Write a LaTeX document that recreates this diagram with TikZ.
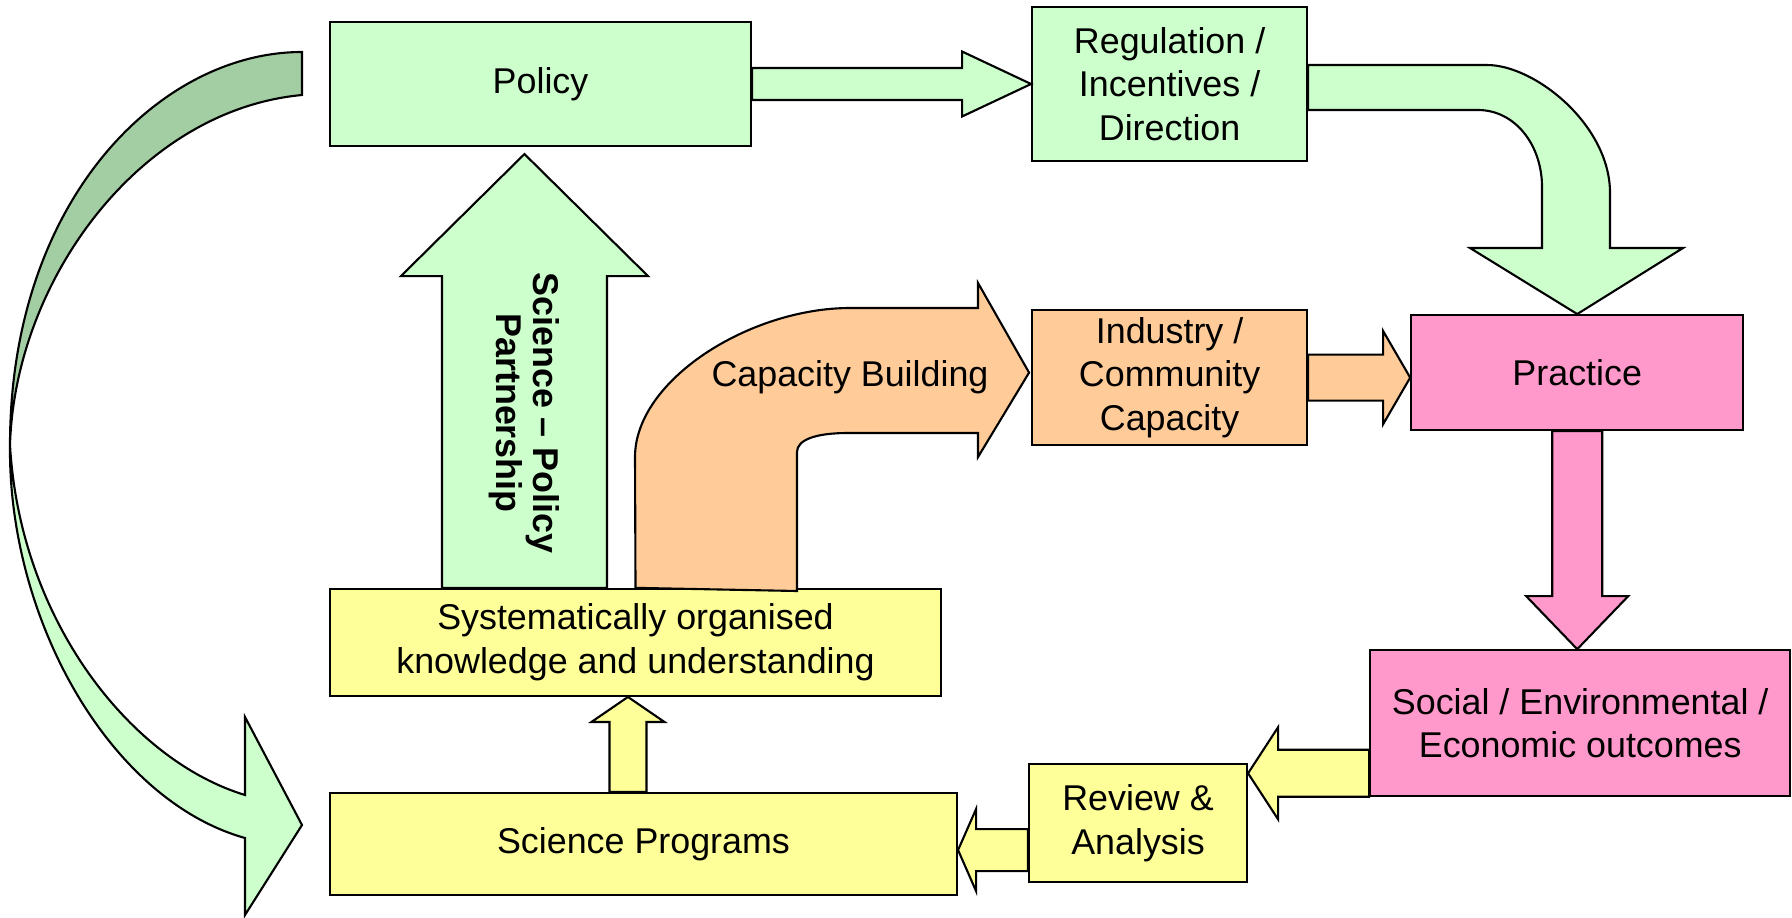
\documentclass[tikz,border=0pt]{standalone}
\usepackage{fontspec}
\setmainfont{Liberation Sans}
\usepackage{tikz}
\usetikzlibrary{positioning,calc}
\definecolor{lightgreen}{HTML}{CCFFCC}
\definecolor{backgreen}{HTML}{A3CDA3}
\definecolor{lightyellow}{HTML}{FFFF99}
\definecolor{lightorange}{HTML}{FFCC99}
\definecolor{lightpink}{HTML}{FF99CC}
\tikzstyle{box}=[rectangle,draw,line width=0.6pt,inner sep=0pt,align=center,font=\fontsize{10.2}{12.4}\selectfont]
\tikzstyle{greenbox}=[box,fill=lightgreen]
\tikzstyle{yellowbox}=[box,fill=lightyellow]
\tikzstyle{orangebox}=[box,fill=lightorange]
\tikzstyle{pinkbox}=[box,fill=lightpink]
\tikzstyle{blockarrow}=[draw,line width=0.6pt,line join=miter]
\tikzstyle{greenarrow}=[blockarrow,fill=lightgreen]
\tikzstyle{backarrow}=[blockarrow,fill=backgreen]
\tikzstyle{yellowarrow}=[blockarrow,fill=lightyellow]
\tikzstyle{orangearrow}=[blockarrow,fill=lightorange]
\tikzstyle{pinkarrow}=[blockarrow,fill=lightpink]
\tikzstyle{arrowlabel}=[font=\fontsize{10.2}{12.4}\selectfont,align=center]
\newcommand{\blockarrow}[6][]{%
  \coordinate (ba-c) at ($#3!#6!#2$);
  \draw[#1] ($#2!#4!90:#3$) -- ($(ba-c)!#4!-90:#2$) -- ($(ba-c)!#5!-90:#2$) -- #3
    -- ($(ba-c)!#5!90:#2$) -- ($(ba-c)!#4!90:#2$) -- ($#2!#4!-90:#3$) -- cycle;}
\begin{document}
\begin{tikzpicture}[x=0.1mm,y=-0.1mm]
\useasboundingbox (0,0) rectangle (1792,917);

\node (policy) [greenbox,minimum width=42.1mm,minimum height=12.4mm] at (540.5,84) {Policy};
\node (reg) [greenbox,minimum width=27.5mm,minimum height=15.4mm,right=27.9mm of policy] {Regulation /\\Incentives /\\Direction};
\node (industry) [orangebox,minimum width=27.5mm,minimum height=13.5mm,below=14.7mm of reg] {Industry /\\Community\\Capacity};
\node (practice) [pinkbox,minimum width=33.2mm,minimum height=11.5mm,right=10.2mm of industry,yshift=0.5mm] {Practice};
\node (social) [pinkbox,minimum width=42mm,minimum height=14.6mm,below=21.8mm of practice,xshift=0.3mm] {Social / Environmental /\\Economic outcomes};
\node (review) [yellowbox,minimum width=21.8mm,minimum height=11.8mm] at (1138,823) {Review \&\\Analysis};
\node (science) [yellowbox,minimum width=62.7mm,minimum height=10.2mm] at (643.5,844) {Science Programs};
\node (know) [yellowbox,minimum width=61.1mm,minimum height=10.7mm,above=9.5mm of science.north west,anchor=south west] {Systematically organised\\knowledge and understanding};

\blockarrow[greenarrow]{(policy.east)}{(reg.west)}{1.6mm}{3.25mm}{6.9mm}

\coordinate (ip-tip) at (industry.east -| practice.west);
\blockarrow[orangearrow]{(industry.east)}{(ip-tip)}{2.3mm}{4.65mm}{2.7mm}

\coordinate (ps-tip) at (practice.south |- social.north);
\blockarrow[pinkarrow]{(practice.south)}{(ps-tip)}{2.5mm}{5.1mm}{5.3mm}

\coordinate (sr-from) at ($(social.south west)+(0,-24)$);
\coordinate (sr-tip) at (sr-from -| review.east);
\blockarrow[yellowarrow]{(sr-from)}{(sr-tip)}{2.35mm}{4.6mm}{3.0mm}

\coordinate (rs-from) at ($(review.south west)+(0,-33)$);
\coordinate (rs-tip) at (rs-from -| science.east);
\blockarrow[yellowarrow]{(rs-from)}{(rs-tip)}{2.1mm}{4.1mm}{1.8mm}

\coordinate (sk-from) at ($(science.north west)+(299,0)$);
\coordinate (sk-tip) at (sk-from |- know.south);
\blockarrow[yellowarrow]{(sk-from)}{(sk-tip)}{1.85mm}{3.65mm}{2.5mm}

\coordinate (kp-from) at ($(know.north west)+(195.5,0)$);
\coordinate (kp-tip) at ($(kp-from |- policy.south)+(0,7)$);
\blockarrow[greenarrow]{(kp-from)}{(kp-tip)}{8.25mm}{12.35mm}{12.2mm}
\node (spp) [arrowlabel,font=\fontsize{10.2}{10.5}\selectfont\bfseries,rotate=-90,xshift=0.3mm] at ($(kp-from)!0.41!(kp-tip)$) {Science -- Policy\\Partnership};

\coordinate (cb-tip) at ($(industry.west)+(-2,-5)$);
\draw [orangearrow] (know.north) -- (635,457) .. controls (635,380) and (750,308) .. (850,308) -- (978,308) -- (978,283) -- (cb-tip) -- (978,457) -- (978,433) -- (848,433) .. controls (815,433) and (797,440) .. (797,452) -- (797,591) -- cycle;
\node (cb) [arrowlabel] at (850,377) {Capacity Building};

\draw [greenarrow] (reg.east |- 0,65) -- (1487,65) .. controls (1535,65) and (1610,125) .. (1610,193) -- (1610,248) -- (1683,248) -- (practice.north) -- (1470,248) -- (1542,248) -- (1542,187) .. controls (1542,145) and (1515,110) .. (1478,110) -- (reg.east |- 0,110) -- cycle;

\draw [backarrow] (302,52) .. controls (160,52) and (10,200) .. (10,445) .. controls (15,280) and (140,110) .. (302,95) -- cycle;
\draw [greenarrow] (10,445) .. controls (8,620) and (110,800) .. (245,838) -- (245,915) -- (302,825) -- (245,717) -- (245,795) .. controls (130,760) and (20,620) .. (10,445) -- cycle;

\end{tikzpicture}
\end{document}
